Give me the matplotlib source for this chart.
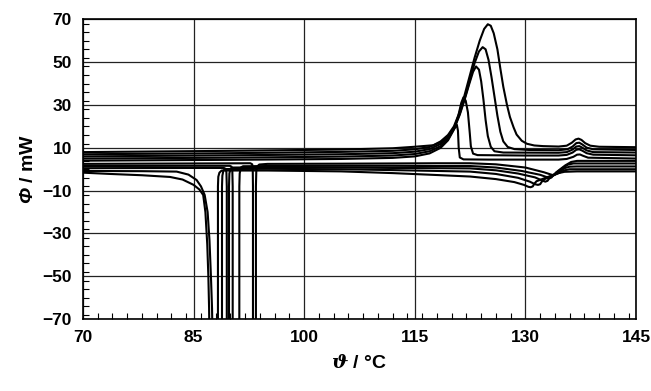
import matplotlib
matplotlib.use("Agg")
import matplotlib.pyplot as plt
from matplotlib.ticker import MultipleLocator

# DSC curves: temperature (°C) and heat flow (mW)
# curves with the crystallisation peak at 120-125 °C
a1_t = [70, 90, 105, 112, 115, 117.5, 118.5, 119.5, 120.3, 121.0, 121.7, 122.4, 123.1, 123.8, 124.4, 124.9,
        125.3, 125.7, 126.2, 126.6, 127.0, 127.5, 127.9, 128.4, 128.8, 129.5, 130.2, 131.2, 132.4, 134.5,
        135.6, 136.3, 136.8, 137.2, 137.6, 138.1, 138.8, 140, 145]
a1_phi = [8.0, 8.6, 9.2, 9.8, 10.5, 11.2, 13.0, 16.0, 20.0, 26, 34, 43, 52, 60, 65.5, 67.7,
          67, 63.5, 56, 47, 38.5, 30, 24.4, 19.5, 16.2, 13.3, 11.9, 11.1, 10.8, 10.6,
          11.0, 12.4, 13.9, 14.3, 13.7, 12.2, 11.0, 10.5, 10.3]

a2_t = [70, 90, 105, 112, 115, 117, 118.5, 119.5, 120.4, 121.1, 121.8, 122.5, 123.1, 123.7, 124.2, 124.6,
        125.0, 125.4, 125.8, 126.2, 126.6, 127.0, 127.6, 128.5, 130.5, 134.5, 135.7, 136.4, 136.9, 137.3,
        137.7, 138.3, 139.2, 145]
a2_phi = [7.0, 7.5, 8.1, 8.6, 9.3, 10.4, 12.6, 15.5, 19.8, 26, 33.5, 42, 49.5, 55, 57, 56,
          51, 43, 34, 25, 17.5, 13, 10.4, 9.4, 9.0, 8.9, 9.3, 10.6, 12.2, 12.4,
          11.6, 10.1, 9.3, 9.0]

a3_t = [70, 90, 105, 112, 115, 117, 118.5, 119.5, 120.4, 121.1, 121.8, 122.4, 122.9, 123.3, 123.7, 124.0,
        124.3, 124.6, 124.9, 125.3, 125.8, 127, 134.5, 135.6, 136.4, 136.9, 137.3, 137.7, 138.3, 139.2, 145]
a3_phi = [6.0, 6.5, 7.0, 7.5, 8.2, 9.4, 11.8, 14.8, 19.5, 25.5, 33, 40, 45.5, 48, 46.5, 41,
          32.7, 23, 15.5, 10.5, 8.4, 7.8, 7.7, 8.0, 9.2, 10.6, 10.8, 10.1, 8.8, 8.0, 7.8]

a4_t = [70, 90, 105, 112, 115, 117, 118.5, 119.5, 120.3, 120.9, 121.3, 121.6, 121.9, 122.2, 122.45, 122.6,
        122.9, 123.5, 130, 134.5, 135.6, 136.4, 136.9, 137.3, 137.7, 138.3, 139.2, 145]
a4_phi = [5.0, 5.4, 5.9, 6.4, 7.1, 8.4, 10.8, 14.0, 18.8, 25, 31, 33.6, 32, 26.6, 17, 10.7,
          7.3, 6.6, 6.4, 6.4, 6.7, 7.8, 9.1, 9.3, 8.7, 7.5, 6.8, 6.5]

a5_t = [70, 90, 105, 112, 115, 117, 118.5, 119.5, 120.3, 120.7, 120.85, 120.95, 121.1, 121.6, 125, 134.5,
        135.6, 136.5, 137.0, 137.4, 137.8, 138.5, 145]
a5_phi = [4.0, 4.4, 4.8, 5.3, 6.0, 7.4, 10.0, 13.5, 18.5, 20.8, 18, 10, 5.5, 4.6, 4.5, 4.5,
          4.8, 5.8, 6.8, 6.9, 6.3, 5.4, 5.0]

# curves with the sharp drop at 87-94 °C and the small dip at 130-134 °C
b1_t = [70, 73.7, 78, 81.8, 83.5, 85.0, 85.8, 86.3, 86.6, 86.85, 87.0, 87.1, 87.2, 88.3, 88.3, 88.35,
        88.5, 88.8, 95, 105, 112, 118, 122.5, 126, 128.5, 129.8, 130.4, 130.7, 131.0, 131.2, 131.5,
        132.5, 133.5, 134.5, 135.3, 137, 145]
b1_phi = [-1.6, -2.2, -2.8, -3.6, -4.8, -7.3, -9.5, -12, -20, -35, -50, -65, -95, -95, -8, -3.5,
          -1.6, -0.6, -0.6, -1.0, -1.8, -2.7, -3.4, -4.6, -6.0, -7.3, -8.2, -8.4, -8.0, -6.8, -5.6,
          -4.3, -3.0, -1.8, -1.2, -1.0, -1.0]

b2_t = [70, 78, 82.7, 84.3, 85.4, 86.0, 86.5, 86.9, 87.15, 87.35, 87.5, 87.65, 88.85, 88.85, 88.9, 89.05,
        89.4, 95, 105, 112, 118, 122.5, 126, 129, 130.6, 131.3, 131.7, 132.0, 132.2, 132.6, 133.5,
        134.5, 135.3, 136, 145]
b2_phi = [-0.8, -0.9, -1.1, -2.5, -5, -8, -12, -20, -33, -50, -65, -95, -95, -8, -3, -0.5,
          0.1, 0.2, 0, -0.4, -0.8, -1.1, -2.2, -4.0, -5.8, -7.0, -7.3, -7.0, -5.9, -4.6, -3.3,
          -1.8, -0.5, 0, 0]

b3_t = [70, 85, 89.1, 89.35, 89.45, 89.5, 89.5, 89.8, 89.8, 89.85, 90.0, 90.3, 95, 105, 112, 118,
        122.5, 126, 129, 131.3, 132.3, 132.7, 133.0, 133.2, 133.6, 134.5, 135.3, 136.0, 137, 145]
b3_phi = [0.5, 0.6, 0.6, 0.2, -1.5, -8, -95, -95, -8, -2, 0.3, 0.8, 0.9, 0.8, 0.6, 0.5,
          0.4, -0.5, -2.0, -3.8, -5.3, -5.8, -5.4, -4.4, -3.3, -1.5, 0.5, 1.2, 1.3, 1.3]

b4_t = [70, 85, 89.9, 90.15, 90.25, 90.3, 90.3, 91.2, 91.2, 91.25, 91.4, 91.7, 95, 105, 112, 118,
        122.5, 126, 129.5, 132, 133.0, 133.3, 133.55, 133.75, 134.2, 135, 135.8, 136.5, 145]
b4_phi = [1.5, 1.6, 1.6, 1.2, -0.5, -8, -95, -95, -8, -2, 0.8, 1.4, 1.5, 1.6, 1.6, 1.5,
          1.5, 0.8, -0.8, -2.6, -3.8, -4.2, -3.8, -2.9, -1.6, 0.5, 2.2, 2.7, 2.7]

b5_t = [70, 85, 92.7, 92.95, 93.02, 93.05, 93.05, 93.45, 93.45, 93.5, 93.6, 93.9, 95, 105, 112, 118,
        122.5, 126, 130, 132.5, 133.4, 133.7, 133.95, 134.15, 134.6, 135.4, 136.2, 137, 145]
b5_phi = [2.5, 2.7, 2.8, 2.3, 0, -8, -95, -95, -8, -1, 1.2, 2.2, 2.5, 2.6, 2.7, 2.8,
          2.8, 2.3, 0.8, -1.4, -2.4, -2.7, -2.3, -1.5, -0.3, 1.8, 3.4, 3.9, 3.9]

curves = [(a1_t, a1_phi), (a2_t, a2_phi), (a3_t, a3_phi), (a4_t, a4_phi), (a5_t, a5_phi),
          (b1_t, b1_phi), (b2_t, b2_phi), (b3_t, b3_phi), (b4_t, b4_phi), (b5_t, b5_phi)]

x_ticks = [70, 85, 100, 115, 130, 145]
y_ticks = [-70, -50, -30, -10, 10, 30, 50, 70]

plt.rcParams['font.family'] = ['Liberation Sans', 'DejaVu Sans']
plt.rcParams['mathtext.fontset'] = 'custom'
plt.rcParams['mathtext.it'] = 'DejaVu Serif:italic:bold'
# upright Greek capitals come from the rm font, so make that one italic
plt.rcParams['mathtext.rm'] = 'Liberation Sans:italic:bold'

fig = plt.figure(figsize=(6.51, 3.91), dpi=100)
ax = fig.add_axes([0.1275, 0.1837, 0.8495, 0.7669])

for t, phi in curves:
    ax.plot(t, phi, color='black', lw=1.5, solid_joinstyle='round')

ax.set_xlim(70, 145)
ax.set_ylim(-70, 70)
ax.set_xticks(x_ticks)
ax.set_yticks(y_ticks)
ax.xaxis.set_minor_locator(MultipleLocator(2))
ax.yaxis.set_minor_locator(MultipleLocator(4))
ax.grid(True, which='major', color='#222222', lw=0.9)
ax.tick_params(which='both', direction='in', labelsize=12.5)
ax.tick_params(which='major', length=0, pad=8)
ax.tick_params(which='minor', length=4, width=0.8)
for lab in ax.get_xticklabels() + ax.get_yticklabels():
    lab.set_fontweight('bold')
for sp in ax.spines.values():
    sp.set_linewidth(1.2)

ax.set_xlabel(r'$\mathit{ϑ}$ / °C', fontsize=14, fontweight='bold', labelpad=6)
ax.set_ylabel(r'$\Phi$ / mW', fontsize=14, fontweight='bold', labelpad=4)

plt.savefig('out.png', dpi=100)
